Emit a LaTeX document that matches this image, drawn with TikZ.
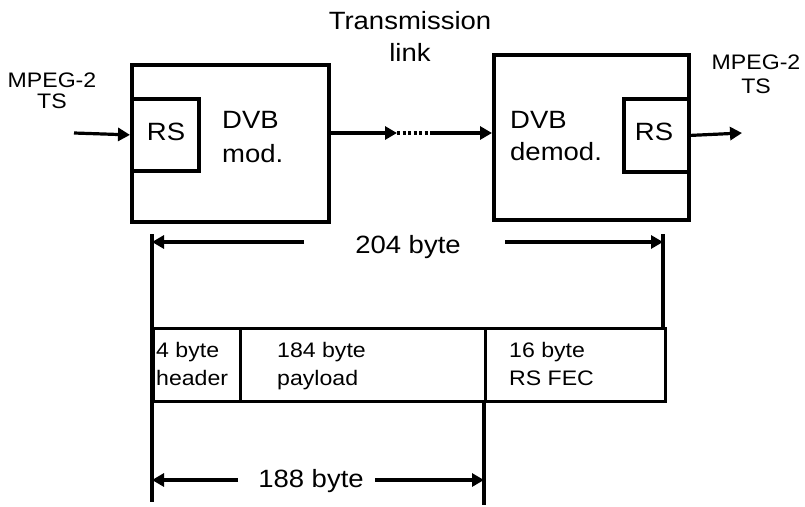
\documentclass[tikz,border=0pt]{standalone}
\usepackage{fontspec}
\setmainfont[FakeStretch=1.1]{Liberation Sans}
\usetikzlibrary{arrows.meta}
\begin{document}
\begin{tikzpicture}[x=1pt,y=-1pt,
  blk/.style={draw, line width=3.8pt, inner sep=0pt, anchor=north west},
  cell/.style={draw, line width=3.2pt, inner sep=0pt, anchor=north west},
  big/.style={inner sep=0pt, font=\fontsize{25}{30}\selectfont},
  small/.style={inner sep=0pt, font=\fontsize{21}{25}\selectfont},
  arr/.style={line width=3.2pt, -{Triangle[length=12pt,width=13pt]}},
  dim/.style={line width=3.2pt},
  dots/.style={line width=3.2pt, dash pattern=on 3pt off 2.5pt}]
\useasboundingbox (0,0) rectangle (805,506);
% blocks
\node[blk, minimum width=197pt, minimum height=157pt] (mod) at (130,63) {};
\node[blk, minimum width=67pt, minimum height=72pt] (rs1) at (130,97) {};
\node[blk, minimum width=195pt, minimum height=165pt] (demod) at (492,53) {};
\node[blk, minimum width=65pt, minimum height=73pt] (rs2) at (622,97) {};
% texts in blocks
\node[big, anchor=base] (rs1t) at (166,140) {RS};
\node[big, anchor=base west] (dvb1) at (222,128) {DVB};
\node[big, anchor=base west] (mod1) at (222,162) {mod.};
\node[big, anchor=base] (rs2t) at (654,140) {RS};
\node[big, anchor=base west] (dvb2) at (510,128) {DVB};
\node[big, anchor=base west] (demod1) at (510,160) {demod.};
% outer labels
\node[small, anchor=base] (mpegl) at (52,87) {MPEG-2};
\node[small, anchor=base] (tsl) at (52,108) {TS};
\node[small, anchor=base] (mpegr) at (756,69) {MPEG-2};
\node[small, anchor=base] (tsr) at (756,93) {TS};
\node[big, anchor=base] (trans) at (410,29) {Transmission};
\node[big, anchor=base] (link) at (410,61) {link};
% signal path
\coordinate (in) at (74,133);
\coordinate (out) at (742,133);
\coordinate (l1) at (397,133);
\coordinate (l2) at (433,133);
\draw[arr] (in) -- (rs1.west);
\draw[arr] (l1 -| mod.east) -- (l1);
\draw[dots] (l1) -- (l2);
\draw[arr] (l2) -- (l2 -| demod.west);
\draw[arr] (rs2.east) -- (out);
% packet
\node[cell, minimum width=87pt, minimum height=73pt] (hdr) at (152,327) {};
\node[cell, minimum width=245pt, minimum height=73pt] (pay) at (239,327) {};
\node[cell, minimum width=180pt, minimum height=73pt] (fec) at (484,327) {};
\node[small, anchor=base west] (h1) at (156,357) {4 byte};
\node[small, anchor=base west] (h2) at (156,385) {header};
\node[small, anchor=base west] (p1) at (277,357) {184 byte};
\node[small, anchor=base west] (p2) at (277,385) {payload};
\node[small, anchor=base west] (f1) at (509,357) {16 byte};
\node[small, anchor=base west] (f2) at (509,385) {RS FEC};
% dimension lines
\coordinate (vl1) at (152,234);
\coordinate (vl2) at (152,502);
\coordinate (vr1) at (663,234);
\coordinate (vm2) at (484,505);
\draw[dim] (vl1) -- (vl2);
\draw[dim] (vr1) -- (vr1 |- fec.north);
\draw[dim] (vm2 |- pay.south) -- (vm2);
\node[big, anchor=base] (d204) at (408,253) {204 byte};
\coordinate (a1) at (304,242);
\coordinate (a2) at (505,242);
\draw[arr] (a1) -- (a1 -| vl1);
\draw[arr] (a2) -- (a2 -| vr1);
\node[big, anchor=base] (d188) at (311,487) {188 byte};
\coordinate (b1) at (238,480);
\coordinate (b2) at (375,480);
\draw[arr] (b1) -- (b1 -| vl1);
\draw[arr] (b2) -- (b2 -| vm2);
\end{tikzpicture}
\end{document}
